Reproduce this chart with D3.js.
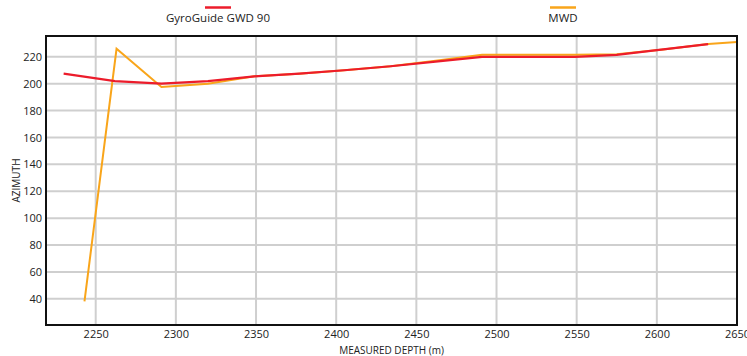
<!DOCTYPE html>
<meta charset="utf-8">
<script src="https://d3js.org/d3.v7.min.js"></script>
<style>
  body { margin: 0; background: #fff; }
  text { font-family: "Open Sans", "Noto Sans", sans-serif; fill: #222; }
</style>
<div id="chart"></div>
<script>

// series: measured depth (m) and azimuth
var gyroDepth   = [2230, 2262, 2291, 2320, 2349, 2377, 2405, 2434, 2462, 2491, 2520, 2549, 2575, 2604, 2632];
var gyroAzimuth = [207.5, 202, 200, 202, 205.5, 207.5, 210, 213, 216.5, 220, 220, 220, 221.5, 225.5, 229.5];

var mwdDepth    = [2243, 2263, 2291, 2320, 2349, 2377, 2405, 2434, 2462, 2491, 2520, 2549, 2575, 2604, 2632, 2650];
var mwdAzimuth  = [38, 226, 197.5, 200, 205.5, 207.5, 210, 213, 217, 221.5, 221.5, 221.5, 222, 225.5, 229.5, 231];

var xTicks = [2250, 2300, 2350, 2400, 2450, 2500, 2550, 2600, 2650];
var yTicks = [40, 60, 80, 100, 120, 140, 160, 180, 200, 220];

var seriesNames  = ["GyroGuide GWD 90", "MWD"];
var seriesColors = ["#ec1c2b", "#f9a51a"];

var margin = {top: 36, right: 10, bottom: 31, left: 46},
    width = 747 - margin.left - margin.right,
    height = 356 - margin.top - margin.bottom;

var svg = d3.select("#chart")
  .append("svg")
    .attr("width", 747)
    .attr("height", 356);

var g = svg.append("g")
    .attr("transform", "translate(" + margin.left + "," + margin.top + ")");

var x = d3.scaleLinear()
    .domain([2219, 2650])
    .range([0, width]);

var y = d3.scaleLinear()
    .domain([20.5, 235.5])
    .range([height, 0]);

// grid
g.append("g")
  .selectAll("line")
  .data(yTicks)
  .enter().append("line")
    .attr("x1", 0).attr("x2", width)
    .attr("y1", function(d) { return y(d); })
    .attr("y2", function(d) { return y(d); })
    .attr("stroke", "#cfcfcf")
    .attr("stroke-width", 2);

g.append("g")
  .selectAll("line")
  .data(xTicks)
  .enter().append("line")
    .attr("y1", 0).attr("y2", height)
    .attr("x1", function(d) { return x(d); })
    .attr("x2", function(d) { return x(d); })
    .attr("stroke", "#cfcfcf")
    .attr("stroke-width", 2);

// axes (labels only)
var xAxis = g.append("g")
    .attr("transform", "translate(0," + height + ")")
    .call(d3.axisBottom(x).tickValues(xTicks).tickSize(0).tickPadding(5).tickFormat(d3.format("d")));
xAxis.select(".domain").remove();
xAxis.selectAll("text").style("font-size", "11px").style("font-family", "'Open Sans', sans-serif");

var yAxis = g.append("g")
    .call(d3.axisLeft(y).tickValues(yTicks).tickSize(0).tickPadding(4));
yAxis.select(".domain").remove();
yAxis.selectAll("text").style("font-size", "11px").style("font-family", "'Open Sans', sans-serif");

// lines
var line = d3.line()
    .x(function(d) { return x(d[0]); })
    .y(function(d) { return y(d[1]); });

g.append("path")
    .datum(d3.zip(mwdDepth, mwdAzimuth))
    .attr("fill", "none")
    .attr("stroke", seriesColors[1])
    .attr("stroke-width", 2)
    .attr("d", line);

g.append("path")
    .datum(d3.zip(gyroDepth, gyroAzimuth))
    .attr("fill", "none")
    .attr("stroke", seriesColors[0])
    .attr("stroke-width", 2.2)
    .attr("d", line);

// frame
g.append("rect")
    .attr("x", 0).attr("y", 0)
    .attr("width", width).attr("height", height)
    .attr("fill", "none")
    .attr("stroke", "#111")
    .attr("stroke-width", 2);

// axis titles
svg.append("text")
    .attr("x", margin.left + width / 2)
    .attr("y", 354)
    .attr("text-anchor", "middle")
    .style("font-size", "10px")
    .text("MEASURED DEPTH (m)");

svg.append("text")
    .attr("transform", "translate(20," + (margin.top + height / 2) + ") rotate(-90)")
    .attr("text-anchor", "middle")
    .style("font-size", "10px")
    .text("AZIMUTH");

// legend
var legendX = [218, 563];
var legend = svg.selectAll(".legend")
  .data(seriesNames)
  .enter().append("g")
    .attr("class", "legend")
    .attr("transform", function(d, i) { return "translate(" + legendX[i] + ",0)"; });

legend.append("line")
    .attr("x1", -13).attr("x2", 13)
    .attr("y1", 7.5).attr("y2", 7.5)
    .attr("stroke", function(d, i) { return seriesColors[i]; })
    .attr("stroke-width", 2.5);

legend.append("text")
    .attr("y", 22)
    .attr("text-anchor", "middle")
    .style("font-size", "11.5px")
    .text(function(d) { return d; });

</script>
